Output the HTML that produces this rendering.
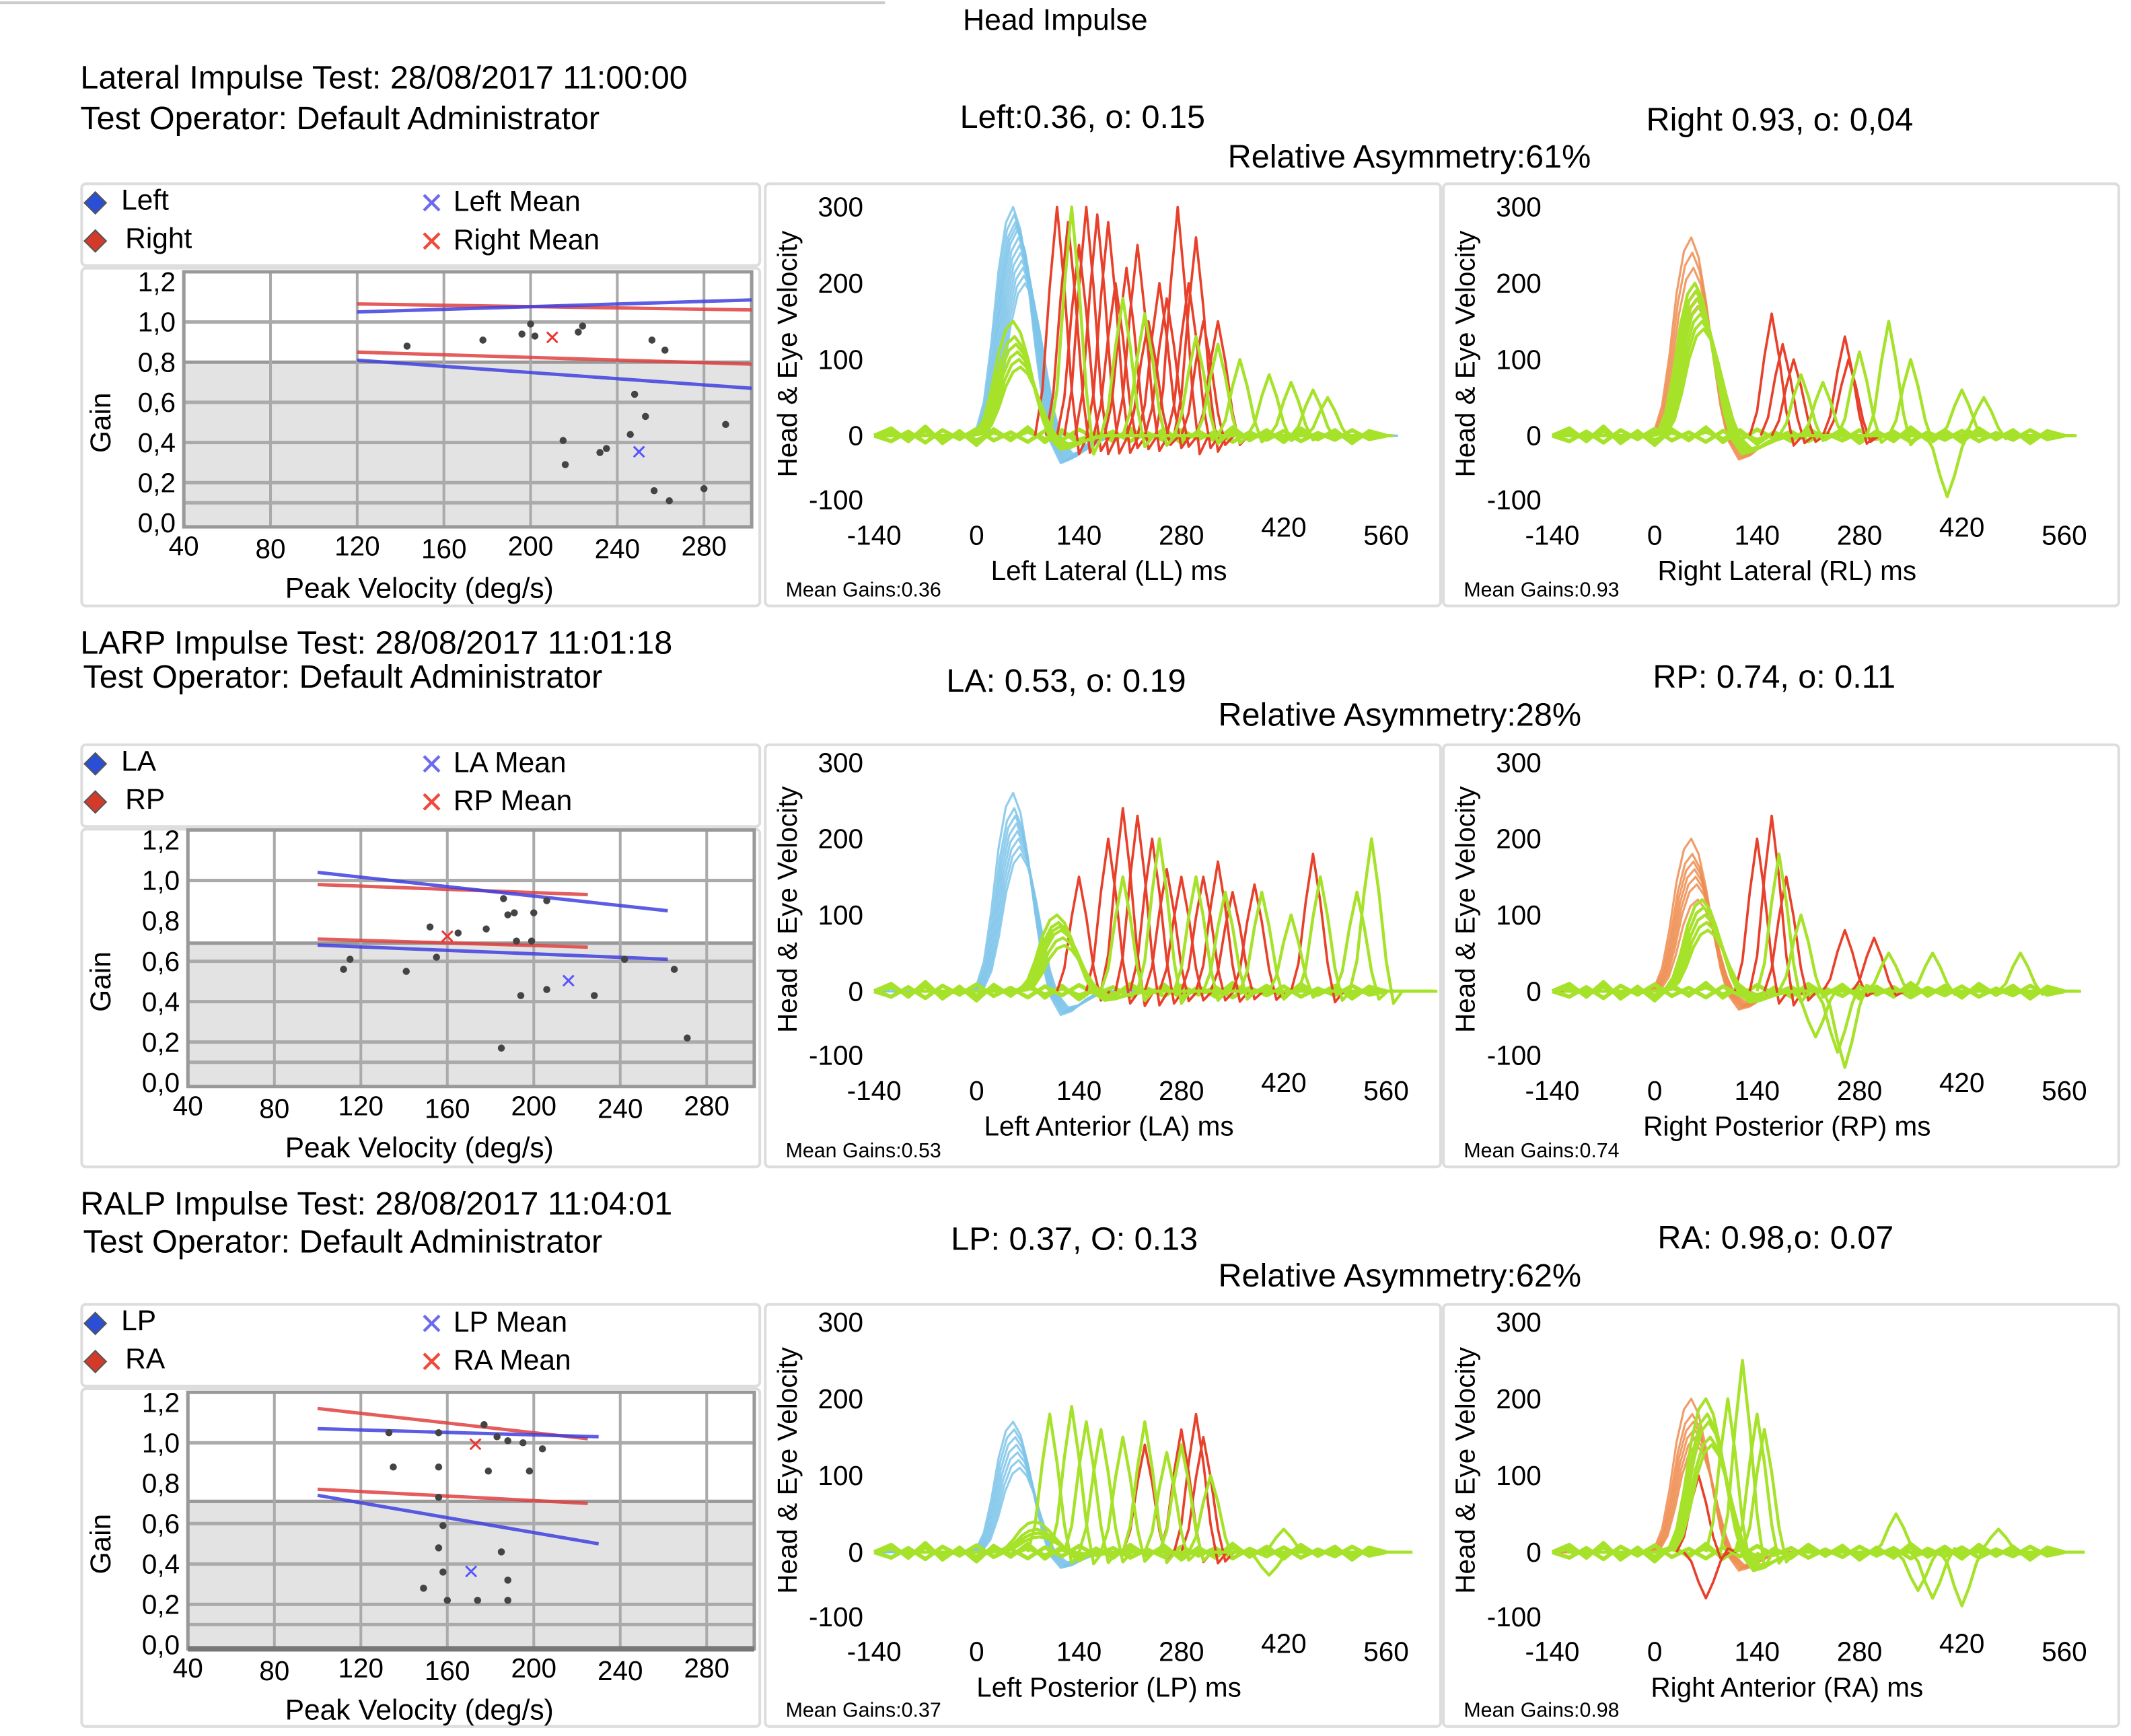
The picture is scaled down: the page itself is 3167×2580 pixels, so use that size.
<!DOCTYPE html>
<html><head><meta charset="utf-8"><style>
html,body{margin:0;padding:0;background:#fff;}
svg{display:block;font-family:"Liberation Sans",Arial,sans-serif;}
</style></head><body>
<svg id="s" width="3167" height="2580" viewBox="0 0 1565 1275" preserveAspectRatio="none" xmlns="http://www.w3.org/2000/svg">
<line x1="0" y1="2" x2="650" y2="2" stroke="#ccc" stroke-width="2"/>
<text x="775" y="22" font-size="22" text-anchor="middle">Head Impulse</text>

<text x="59" y="65" font-size="24">Lateral Impulse Test: 28/08/2017 11:00:00</text>
<text x="59" y="95" font-size="24">Test Operator: Default Administrator</text>
<text x="795" y="94" font-size="24" text-anchor="middle">Left:0.36, o: 0.15</text>
<text x="1307" y="96" font-size="24" text-anchor="middle">Right 0.93, o: 0,04</text>
<text x="1035" y="123" font-size="24" text-anchor="middle">Relative Asymmetry:61%</text>

<text x="59" y="480" font-size="24">LARP Impulse Test: 28/08/2017 11:01:18</text>
<text x="61" y="505" font-size="24">Test Operator: Default Administrator</text>
<text x="783" y="508" font-size="24" text-anchor="middle">LA: 0.53, o: 0.19</text>
<text x="1303" y="505" font-size="24" text-anchor="middle">RP: 0.74, o: 0.11</text>
<text x="1028" y="533" font-size="24" text-anchor="middle">Relative Asymmetry:28%</text>

<text x="59" y="892" font-size="24">RALP Impulse Test: 28/08/2017 11:04:01</text>
<text x="61" y="920" font-size="24">Test Operator: Default Administrator</text>
<text x="789" y="918" font-size="24" text-anchor="middle">LP: 0.37, O: 0.13</text>
<text x="1304" y="917" font-size="24" text-anchor="middle">RA: 0.98,o: 0.07</text>
<text x="1028" y="945" font-size="24" text-anchor="middle">Relative Asymmetry:62%</text>
</svg>
<script>
// ---------- scatter data (velocity deg/s, gain) ----------
const scatter1V=[143,178,196,200,202,222,224,256,262,248,253,215,216,232,235,246,257,264,280,290];
const scatter1G=[0.88,0.91,0.94,0.99,0.93,0.95,0.98,0.91,0.86,0.64,0.53,0.41,0.29,0.35,0.37,0.44,0.16,0.11,0.17,0.49];
const scatter2V=[112,115,141,152,155,165,178,186,188,191,200,206,192,199,194,185,206,228,242,265,271];
const scatter2G=[0.56,0.61,0.55,0.77,0.62,0.74,0.76,0.91,0.83,0.84,0.84,0.90,0.70,0.70,0.43,0.17,0.46,0.43,0.61,0.56,0.22];
const scatter3V=[133,135,156,156,156,158,156,158,149,160,174,185,188,188,177,183,188,195,204,179,198];
const scatter3G=[1.05,0.88,1.05,0.88,0.73,0.59,0.48,0.36,0.28,0.22,0.22,0.46,0.32,0.22,1.09,1.03,1.01,1.00,0.97,0.86,0.86];
const meanRed=[[210,0.92],[160,0.72],[173,0.99]];
const meanBlue=[[250,0.35],[216,0.50],[171,0.36]];
const redUpper=[[120,1.09,302,1.06],[100,0.98,225,0.93],[100,1.17,225,1.02]];
const redLower=[[120,0.85,302,0.79],[100,0.71,225,0.67],[100,0.77,225,0.70]];
const blueUpper=[[120,1.05,302,1.11],[100,1.04,262,0.85],[100,1.07,230,1.03]];
const blueLower=[[120,0.81,302,0.67],[100,0.68,262,0.61],[100,0.74,230,0.50]];
const grayLevel=[0.8,0.69,0.71];
const legendNames=[["Left","Right","Left Mean","Right Mean"],["LA","RP","LA Mean","RP Mean"],["LP","RA","LP Mean","RA Mean"]];
const gainTicks=["0,0","0,2","0,4","0,6","0,8","1,0","1,2"];
const velTicks=[40,80,120,160,200,240,280];

// ---------- velocity trace data ----------
const headShapeT=[-140,-20,0,10,20,30,40,50,60,70,80,90,100,115,130,150,170,560];
const headShapeV=[0,0,0.03,0.15,0.4,0.72,0.93,1,0.9,0.68,0.4,0.15,-0.02,-0.12,-0.1,-0.04,0,0];
const saccShapeT=[-30,-20,-10,0,10,20,30,42];
const saccShapeV=[0,0.2,0.65,1,0.65,0.2,-0.08,0];
const headPeaks=[[300,290,280,275,270,260,250,240,230,220,210,200],[260,240,220,200,190,180,170],[260,240,230,220,210,200,190,180],[200,180,170,160,150,140,120],[170,160,150,140,130,120,110],[200,180,170,160,150,140]];
const eyePeaks=[[150,130,120,110,100,90],[200,190,180,170,160,150,140],[100,90,85,80,70,60],[120,110,100,90,80],[40,30,25,20],[200,180,170,150,140]];
const eyeShift=[0,5,60,15,30,20];
const redSaccT=[[110,125,140,150,165,180,190,205,220,235,250,260,275,290,300,310,330],[160,175,190,260,265],[140,180,200,220,240,260,280,310,330,350,380,460],[140,160,180,260,300],[230,280,300,310],[60,70]];
const redSaccA=[[300,280,250,300,290,280,200,220,250,150,200,180,300,200,260,150,150],[160,120,100,130,100],[150,200,240,230,200,160,150,150,170,130,140,180],[200,230,150,80,70],[140,160,180,150],[100,-60]];
const greenSaccT=[[300,330,360,400,430,460,480,200,230,130],[200,230,280,320,350,400,420,450],[200,250,300,340,390,430,470,540,520],[170,200,220,250,260,320,380,500],[100,130,150,170,200,230,260,280,320,400,420],[120,100,140,150,330,360,380,420,470]];
const greenSaccA=[[130,120,100,80,70,60,50,180,160,300],[80,70,110,150,100,-80,60,50],[150,200,150,130,130,100,150,200,130],[180,100,-60,-80,-100,50,50,50],[180,190,170,160,150,170,130,140,100,-30,30],[250,200,180,160,50,-50,-60,-70,30]];
const baselineNoise=[0,8,-6,10,-8,5,-10,7,-5,9,-7,6,-9,4,-6,8,-4,7,-8,5,-6,9,-5,6,-7,8,-4,6,-8,5,0];
const headColors=["#7ec4ea","#ee8c4f","#7ec4ea","#ee8c4f","#7ec4ea","#ee8c4f"];
const meanGains=["Mean Gains:0.36","Mean Gains:0.93","Mean Gains:0.53","Mean Gains:0.74","Mean Gains:0.37","Mean Gains:0.98"];
const xLabels=["Left Lateral (LL) ms","Right Lateral (RL) ms","Left Anterior (LA) ms","Right Posterior (RP) ms","Left Posterior (LP) ms","Right Anterior (RA) ms"];
const timeTicks=[-140,0,140,280,420,560];
const ampTicks=[300,200,100,0,-100];

const NS="http://www.w3.org/2000/svg";
const svg=document.getElementById('s');
function el(tag,attrs,parent,txt){const e=document.createElementNS(NS,tag);for(const k in attrs)e.setAttribute(k,attrs[k]);if(txt!==undefined)e.textContent=txt;(parent||svg).appendChild(e);return e;}

const rowTop=[135,547,958];
const scat=[{y12:207,y0:384,x40:135,x280:517},{y12:617,y0:795,x40:138,x280:519},{y12:1030,y0:1208,x40:138,x280:519}];
const sV=[scatter1V,scatter2V,scatter3V], sG=[scatter1G,scatter2G,scatter3G];

for(let r=0;r<3;r++){
  const T=rowTop[r], L=scat[r];
  const xs=v=>L.x40+(v-40)*(L.x280-L.x40)/240;
  const ys=g=>L.y0-g/1.2*(L.y0-L.y12);
  const g=el('g',{});
  
  
  const lb=el('rect',{x:60,y:T,width:498,height:60,fill:'#fff',stroke:'#ddd','stroke-width':2,rx:3},g);
  
  const pb=el('rect',{x:60,y:T+62,width:498,height:248,fill:'#fff',stroke:'#ddd','stroke-width':2,rx:3},g);
  
  const names=legendNames[r];
  const items=[[70,T+14,'#2a4fd6','d',89],[70,T+42,'#d43a2a','d',92],[317,T+15,'#6b6bf0','x',333],[317,T+43,'#ef4a3a','x',333]];
  items.forEach((it,i)=>{
    const lg=el('g',{},g);
    
    
    if(it[3]==='d') el('path',{d:`M${it[0]} ${it[1]-8} L${it[0]+8} ${it[1]} L${it[0]} ${it[1]+8} L${it[0]-8} ${it[1]} Z`,fill:it[2],stroke:'#555','stroke-width':1},lg);
    else el('text',{x:it[0],y:it[1]+7,'font-size':22,fill:it[2],'text-anchor':'middle'},lg,'✕');
    el('text',{x:it[4],y:it[1]+5,'font-size':21},lg,names[i]);
  });
  const px0=xs(40), px1=xs(302), py0=ys(1.25), py1=ys(-0.02);
  el('rect',{x:px0,y:py0,width:px1-px0,height:py1-py0,fill:'#fff'},g);
  el('rect',{x:px0,y:ys(grayLevel[r]),width:px1-px0,height:py1-ys(grayLevel[r]),fill:'#e3e3e3'},g);
  [0.1,0.2,0.4,0.6,1.0].forEach(v=>el('line',{x1:px0,x2:px1,y1:ys(v),y2:ys(v),stroke:'#aaa','stroke-width':2.5},g));
  el('line',{x1:px0,x2:px1,y1:ys(grayLevel[r]),y2:ys(grayLevel[r]),stroke:'#999','stroke-width':2.5},g);
  [80,120,160,200,240,280].forEach(v=>el('line',{x1:xs(v),x2:xs(v),y1:py0,y2:py1,stroke:'#aaa','stroke-width':2},g));
  el('rect',{x:px0,y:py0,width:px1-px0,height:py1-py0,fill:'none',stroke:'#999','stroke-width':2.5},g);
  if(r===2) el('line',{x1:px0,x2:px1,y1:py1,y2:py1,stroke:'#777','stroke-width':4},g);
  gainTicks.forEach((t,i)=>{const tt=el('text',{x:L.x40-6,y:ys(i*0.2)+7,'font-size':20,'text-anchor':'end'},g,t);});
  velTicks.forEach((t,i)=>{const tt=el('text',{x:xs(t),y:L.y0+24+(i%2?2:0),'font-size':20,'text-anchor':'middle'},g,t);});
  const yl=el('text',{x:0,y:0,'font-size':21,'text-anchor':'middle',transform:`translate(81 ${(L.y0+L.y12)/2+15}) rotate(-90)`},g,'Gain');
  
  const xl=el('text',{x:308,y:L.y0+55,'font-size':21,'text-anchor':'middle'},g,'Peak Velocity (deg/s)');
  
  const drawL=(a,c)=>{const ln=el('line',{x1:xs(a[0]),y1:ys(a[1]),x2:xs(a[2]),y2:ys(a[3]),stroke:c,'stroke-width':2.5,opacity:0.85},g);};
  drawL(redUpper[r],'#e04040');drawL(redLower[r],'#e04040');drawL(blueUpper[r],'#4040e0');drawL(blueLower[r],'#4040e0');
  for(let i=0;i<sV[r].length;i++){
    const c=el('circle',{cx:xs(sV[r][i]),cy:ys(sG[r][i]),r:2.6,fill:'#444'},g);
    
    
  }
  const mr=el('text',{x:xs(meanRed[r][0]),y:ys(meanRed[r][1])+5,'font-size':15,fill:'#e33','text-anchor':'middle'},g,'✕');
  
  const mb=el('text',{x:xs(meanBlue[r][0]),y:ys(meanBlue[r][1])+5,'font-size':15,fill:'#55f','text-anchor':'middle'},g,'✕');
  
}

// ---------- velocity panels ----------
const velY=[{y300:152,y0:320},{y300:560,y0:728},{y300:971,y0:1140}];
const velX=[{xm:642,xp:1018,box:562},{xm:1140,xp:1516,box:1060}];
for(let p=0;p<6;p++){
  const r=Math.floor(p/2), c=p%2, Y=velY[r], X=velX[c], T=rowTop[r];
  const tx=t=>X.xm+(t+140)*(X.xp-X.xm)/700;
  const ty=v=>Y.y0-v*(Y.y0-Y.y300)/300;
  const g=el('g',{});
  
  
  const bx=el('rect',{x:X.box,y:T,width:496,height:310,fill:'#fff',stroke:'#ddd','stroke-width':2,rx:3},g);
  
  ampTicks.forEach(v=>{const t=el('text',{x:X.xm-8,y:ty(v)+(v<0?-2:7),'font-size':20,'text-anchor':'end'},g,v);});
  timeTicks.forEach(v=>{const t=el('text',{x:tx(v),y:Y.y0+(v===420?74:80),'font-size':20,'text-anchor':'middle'},g,v);});
  const yl=el('text',{x:0,y:0,'font-size':20,'text-anchor':'middle',transform:`translate(${X.box+23} ${Y.y0-60}) rotate(-90)`},g,'Head & Eye Velocity');
  
  const xl=el('text',{x:tx(140)+22,y:Y.y0+106,'font-size':20,'text-anchor':'middle'},g,xLabels[p]);
  
  const mg=el('text',{x:X.box+15,y:T+303,'font-size':15},g,meanGains[p]);
  
  headPeaks[p].forEach((pk,i)=>{
    const pts=headShapeT.map((t,k)=>tx(t+i*1.5)+','+ty(headShapeV[k]*pk)).join(' ');
    const pl=el('polyline',{points:pts,fill:'none',stroke:headColors[p],'stroke-width':1.6,opacity:0.85,'stroke-linejoin':'round'},g);
    
  });
  for(let k=0;k<3;k++){
    const pts=baselineNoise.map((n,i)=>tx(-140+i*700/(baselineNoise.length-1))+','+ty(n*(k===1?-1:1)*(0.6+k*0.3))).join(' ');
    const pl=el('polyline',{points:pts,fill:'none',stroke:'#a6e22a','stroke-width':3,'stroke-linejoin':'round'},g);
    
  }
  redSaccT[p].forEach((t0,i)=>{
    const pts=saccShapeT.map((t,k)=>tx(t0+t)+','+ty(saccShapeV[k]*redSaccA[p][i])).join(' ');
    const pl=el('polyline',{points:pts,fill:'none',stroke:'#e8402a','stroke-width':1.8,'stroke-linejoin':'round'},g);
    
  });
  eyePeaks[p].forEach((pk,i)=>{
    const pts=headShapeT.map((t,k)=>tx(t+eyeShift[p]+i*2)+','+ty(headShapeV[k]*pk)).join(' ');
    const pl=el('polyline',{points:pts,fill:'none',stroke:'#a6e22a','stroke-width':2.2,'stroke-linejoin':'round'},g);
    
  });
  greenSaccT[p].forEach((t0,i)=>{
    const pts=saccShapeT.map((t,k)=>tx(t0+t)+','+ty(saccShapeV[k]*greenSaccA[p][i])).join(' ');
    const pl=el('polyline',{points:pts,fill:'none',stroke:'#a6e22a','stroke-width':2.2,'stroke-linejoin':'round'},g);
    
  });
}
</script>
</body></html>
